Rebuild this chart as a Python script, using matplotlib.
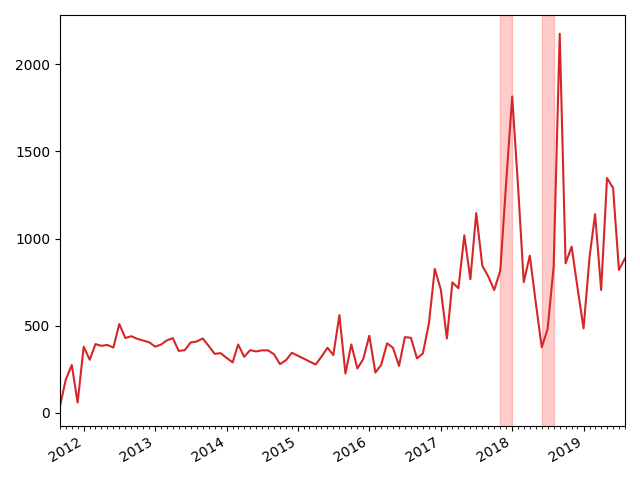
import numpy as np
import pandas as pd
import matplotlib
matplotlib.use('Agg')
import matplotlib.pyplot as plt
import matplotlib.dates as mdates


START_MONTH = '2011-09-01'
LINE_COLOR = 'tab:red'
SPAN_COLOR = 'red'
SPAN_ALPHA = 0.2

# monthly values, 2011-09 .. 2019-08
values = [
    35, 190, 275, 60,                                                # 2011
    380, 305, 395, 385, 390, 375, 510, 430, 440, 425, 415, 405,      # 2012
    380, 393, 416, 429, 356, 360, 404, 410, 427, 385, 339, 343,      # 2013
    316, 290, 393, 322, 360, 353, 359, 359, 336, 280, 303, 345,      # 2014
    328, 311, 295, 278, 322, 374, 332, 561, 226, 393, 255, 309,      # 2015
    443, 232, 274, 399, 374, 270, 435, 431, 313, 341, 514, 826,      # 2016
    707, 427, 749, 715, 1019, 767, 1146, 845, 782, 705, 816, 1320,   # 2017
    1815, 1280, 750, 902, 638, 376, 481, 839, 2175, 858, 954, 719,   # 2018
    485, 897, 1140, 705, 1347, 1290, 820, 887,                       # 2019
]

# highlighted periods
span_starts = ['2017-11-01', '2018-06-01']
span_ends = ['2018-01-01', '2018-08-01']

dates = pd.date_range(START_MONTH, periods=len(values), freq='MS')

fig, ax = plt.subplots(figsize=(6.4, 4.8), dpi=100)

for s, e in zip(span_starts, span_ends):
    ax.axvspan(pd.Timestamp(s), pd.Timestamp(e), color=SPAN_COLOR, alpha=SPAN_ALPHA)

ax.plot(dates, np.array(values), color=LINE_COLOR)

ax.set_xlim(dates[0], dates[-1])
ax.xaxis.set_major_locator(mdates.YearLocator())
ax.xaxis.set_major_formatter(mdates.DateFormatter('%Y'))
ax.xaxis.set_minor_locator(mdates.MonthLocator())
ax.set_yticks([0, 500, 1000, 1500, 2000])

fig.autofmt_xdate()
fig.tight_layout()
fig.savefig('out.png')
